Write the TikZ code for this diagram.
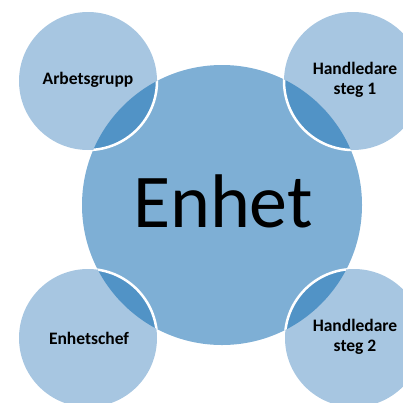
\documentclass[tikz,border=0pt]{standalone}
\usepackage{fontspec}
\setmainfont{Carlito}
\definecolor{bigfill}{HTML}{7EAFD5}
\definecolor{smallfill}{HTML}{A7C6E1}
\definecolor{overlap}{HTML}{5193C6}
\begin{document}
\begin{tikzpicture}[x=1pt,y=-1pt,
  smalllabel/.style={font=\fontsize{17.5}{20}\selectfont\bfseries, align=center, text=black},
  biglabel/.style={font=\fontsize{76}{76}\selectfont, text=black}]
\useasboundingbox (0,0) rectangle (403,402);
\clip (0,0) rectangle (403,402);
% centers
\coordinate (c0) at (222,205);
\coordinate (c1) at (88,81);
\coordinate (c2) at (353,81);
\coordinate (c3) at (88,338);
\coordinate (c4) at (354,338);
\def\R{140}
\def\r{69}
\fill[bigfill] (c0) circle (\R);
\foreach \c in {c1,c2,c3,c4}{
  \fill[smallfill] (\c) circle (\r);
  \begin{scope}
    \clip (c0) circle (\R);
    \fill[overlap] (\c) circle (\r);
  \end{scope}
  \begin{scope}
    \clip (c0) circle (\R);
    \draw[white, line width=2.5pt] (\c) circle (\r);
  \end{scope}
}
\node[biglabel] (enhet) at (223,201) {Enhet};
\node[smalllabel] (arb) at (88,80) {Arbetsgrupp};
\node[smalllabel] (hs1) at (355,80) {Handledare\\steg 1};
\node[smalllabel] (chef) at (89,338) {Enhetschef};
\node[smalllabel] (hs2) at (355,337) {Handledare\\steg 2};
\end{tikzpicture}
\end{document}
